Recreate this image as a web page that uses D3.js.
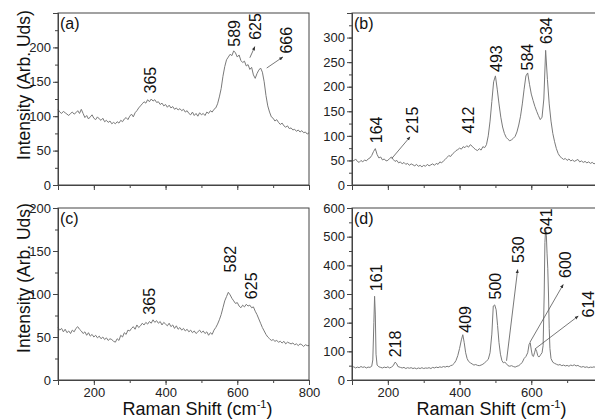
<!DOCTYPE html>
<html>
<head>
<meta charset="utf-8">
<script src="https://cdn.jsdelivr.net/npm/d3@7"></script>
<style>
body { margin: 0; background: #fff; overflow: hidden; }
svg { font-family: "Liberation Sans", Arial, sans-serif; }
</style>
</head>
<body>
<div id="chart-area"></div>
<script>
// Raman shift grid shared by spectra (a), (b), (c)
var shiftGrid = d3.range(100, 801, 5);

var intensityA = [
  110,106,104,107,105,103,101,104,106,103,
  105,108,104,110,104,98,101,96,99,102,
  97,95,99,96,94,97,92,94,91,93,
  89,91,89,92,90,94,92,96,98,95,
  100,103,99,105,108,112,115,118,121,119,
  124,121,125,122,124,120,121,117,119,115,
  117,113,116,112,114,110,112,109,111,108,
  110,106,108,104,102,106,101,104,100,105,
  102,104,101,106,104,108,106,110,112,118,
  128,140,158,172,182,186,190,188,195,192,
  186,189,181,178,180,173,175,168,171,160,
  155,162,167,170,164,150,130,115,106,99,
  97,93,95,91,88,90,86,84,86,82,
  83,80,81,78,80,77,79,76,77,74,
  76
];

var intensityB = [
  52,49,53,48,46,50,47,51,49,53,
  55,60,68,74,62,55,57,51,53,49,
  50,54,57,52,48,50,45,47,43,46,
  42,44,40,43,41,39,42,38,40,37,
  40,38,42,39,41,43,40,44,42,47,
  45,49,52,56,60,58,63,66,70,72,
  75,73,78,76,80,77,82,79,75,72,
  70,74,71,78,76,82,100,130,170,210,
  222,195,165,138,118,105,97,93,90,92,
  95,99,108,122,140,165,195,222,228,205,
  185,172,160,150,141,133,138,175,274,215,
  165,130,105,88,74,64,58,55,52,54,
  50,53,49,51,48,50,52,47,49,46,
  48,45,47,44,46,43,45,42,44,43,
  44
];

var intensityC = [
  61,58,60,56,59,55,57,54,58,56,
  60,62,59,57,54,56,52,55,51,53,
  50,52,49,51,48,50,47,49,46,48,
  47,45,44,48,46,52,50,55,53,58,
  57,60,62,59,64,61,63,66,64,67,
  65,68,66,70,67,69,66,68,64,67,
  65,63,66,62,64,60,63,59,61,58,
  60,57,59,56,58,55,57,54,56,58,
  55,57,54,56,52,55,53,58,61,65,
  70,76,84,92,97,102,99,95,92,89,
  90,86,84,87,85,88,86,87,84,85,
  80,76,71,66,61,57,53,50,48,46,
  47,45,46,44,45,43,45,42,44,43,
  42,43,41,42,40,42,41,39,41,40,
  40
];

// spectrum (d) has sharp lines, so it has its own shift list
var shiftD = [
  100,105,110,115,120,125,130,135,140,145,150,155,158,161,163,165,167,170,175,180,
  185,190,195,200,205,210,215,220,224,228,235,240,245,250,255,260,265,270,275,280,
  285,290,295,300,305,310,315,320,325,330,335,340,345,350,355,360,365,370,375,380,
  385,390,395,400,405,409,413,417,421,425,430,435,440,445,450,455,460,465,470,475,
  480,485,490,494,498,502,506,510,514,518,522,526,530,535,540,545,550,555,560,565,
  570,575,580,585,590,594,597,600,603,606,609,612,615,618,621,624,627,630,633,636,
  638,640,642,644,646,648,650,652,655,660,665,670,675,680,685,690,695,700,705,710,
  715,720,725,730,735,740,745,750,755,760,765,770,775,780,785,790,795,800
];
var intensityD = [
  44,46,42,45,43,47,44,46,42,45,44,48,70,200,292,230,90,52,46,44,
  42,45,43,46,42,45,50,62,58,47,44,42,44,40,43,41,43,40,42,39,
  42,40,43,40,42,41,43,40,44,42,45,43,46,44,47,45,48,46,50,52,
  58,68,85,110,140,158,130,95,75,65,60,56,52,54,51,50,52,55,60,66,
  72,95,160,258,262,245,190,130,90,68,60,62,58,50,48,50,47,45,48,50,
  55,62,75,82,95,125,130,105,85,82,95,108,100,85,80,84,90,95,120,300,
  480,525,505,440,390,300,180,110,75,62,58,55,52,54,50,52,49,51,48,52,
  50,53,49,51,47,45,47,44,46,43,45,44,46,43,45,44,46,45
];

var shiftTicksLeft = [200, 400, 600, 800];
var shiftTicksRight = [200, 400, 600];
var ticksA = [0, 50, 100, 150, 200];
var ticksB = [0, 50, 100, 150, 200, 250, 300];
var ticksC = [0, 50, 100, 150, 200];
var ticksD = [0, 100, 200, 300, 400, 500, 600];

// peak labels: text, label centre (shift, intensity where the text starts)
var peaksA = [
  {text: "365", x: 358, y: 133},
  {text: "589", x: 593, y: 201},
  {text: "625", x: 649, y: 211},
  {text: "666", x: 738, y: 191}
];
var peaksB = [
  {text: "164", x: 168, y: 85},
  {text: "215", x: 269, y: 105},
  {text: "412", x: 424, y: 105},
  {text: "493", x: 503, y: 230},
  {text: "584", x: 590, y: 233},
  {text: "634", x: 643, y: 287}
];
var peaksC = [
  {text: "365", x: 354, y: 76},
  {text: "582", x: 580, y: 125},
  {text: "625", x: 640, y: 94}
];
var peaksD = [
  {text: "161", x: 167, y: 310},
  {text: "218", x: 220, y: 79},
  {text: "409", x: 415, y: 165},
  {text: "500", x: 499, y: 281},
  {text: "530", x: 564, y: 408},
  {text: "641", x: 643, y: 506},
  {text: "600", x: 694, y: 356},
  {text: "614", x: 759, y: 218}
];

// arrows from a peak to its label
var arrowsA = [
  {x1: 635, y1: 185, x2: 649, y2: 201},
  {x1: 682, y1: 170, x2: 727, y2: 186}
];
var arrowsB = [
  {x1: 211, y1: 54, x2: 262, y2: 98}
];
var arrowsC = [];
var arrowsD = [
  {x1: 531, y1: 67, x2: 562, y2: 385},
  {x1: 596, y1: 131, x2: 689, y2: 333},
  {x1: 610, y1: 108, x2: 731, y2: 223}
];

var pw = 251;
var ph = 172;

var panels = [
  {name: "(a)", xs: shiftGrid, ys: intensityA, yMax: 250, yTicks: ticksA, yMinor: 25, left: 58, top: 13, xTicks: shiftTicksLeft, xLabels: false, peaks: peaksA, arrows: arrowsA},
  {name: "(b)", xs: shiftGrid, ys: intensityB, yMax: 350, yTicks: ticksB, yMinor: 25, left: 352, top: 13, xTicks: shiftTicksRight, xLabels: false, peaks: peaksB, arrows: arrowsB},
  {name: "(c)", xs: shiftGrid, ys: intensityC, yMax: 200, yTicks: ticksC, yMinor: 25, left: 58, top: 208, xTicks: shiftTicksLeft, xLabels: true, peaks: peaksC, arrows: arrowsC},
  {name: "(d)", xs: shiftD, ys: intensityD, yMax: 600, yTicks: ticksD, yMinor: 50, left: 352, top: 208, xTicks: shiftTicksRight, xLabels: true, peaks: peaksD, arrows: arrowsD}
];

var svg = d3.select('#chart-area')
  .append('svg')
  .attr('width', 595)
  .attr('height', 420);

svg.append('defs').append('marker')
  .attr('id', 'head')
  .attr('viewBox', '0 0 10 10')
  .attr('refX', 9)
  .attr('refY', 5)
  .attr('markerWidth', 5)
  .attr('markerHeight', 5)
  .attr('orient', 'auto')
  .append('path')
  .attr('d', 'M0,1 L10,5 L0,9 Z')
  .attr('fill', '#333');

panels.forEach(function(p) {
  var g = svg.append('g')
    .attr('transform', 'translate(' + p.left + ',' + p.top + ')');

  var x = d3.scaleLinear().domain([100, 800]).range([0, pw]);
  var y = d3.scaleLinear().domain([0, p.yMax]).range([ph, 0]);

  var line = d3.line()
    .x(function(d) { return x(d[0]); })
    .y(function(d) { return y(d[1]); });

  g.append('path')
    .datum(d3.zip(p.xs, p.ys))
    .attr('d', line)
    .attr('fill', 'none')
    .attr('stroke', '#7a7a7a')
    .attr('stroke-width', 1);

  // minor ticks
  g.append('g')
    .attr('class', 'minor axis')
    .call(d3.axisLeft(y).tickValues(d3.range(0, p.yMax + 1, p.yMinor)).tickSize(3).tickFormat(''));
  g.append('g')
    .attr('class', 'minor axis')
    .attr('transform', 'translate(0,' + ph + ')')
    .call(d3.axisBottom(x).tickValues(d3.range(100, 801, 100)).tickSize(3).tickFormat(''));

  // major ticks
  g.append('g')
    .attr('class', 'left axis')
    .call(d3.axisLeft(y).tickValues(p.yTicks).tickSize(5).tickPadding(2));
  var bot = d3.axisBottom(x).tickValues(p.xTicks).tickSize(5).tickPadding(3);
  if (!p.xLabels) bot.tickFormat('');
  g.append('g')
    .attr('class', 'bottom axis')
    .attr('transform', 'translate(0,' + ph + ')')
    .call(bot);

  g.selectAll('.axis path, .axis line').attr('stroke', '#444');
  g.selectAll('.axis text')
    .attr('font-size', '13px')
    .attr('fill', '#222')
    .attr('font-family', '"Liberation Sans", Arial, sans-serif');

  g.append('rect')
    .attr('width', pw)
    .attr('height', ph)
    .attr('fill', 'none')
    .attr('stroke', '#444');

  g.append('text')
    .attr('x', 2)
    .attr('y', 16)
    .attr('font-size', '16px')
    .attr('fill', '#111')
    .text(p.name);

  g.selectAll('.arrow')
    .data(p.arrows)
    .enter()
    .append('line')
    .attr('class', 'arrow')
    .attr('x1', function(d) { return x(d.x1); })
    .attr('y1', function(d) { return y(d.y1); })
    .attr('x2', function(d) { return x(d.x2); })
    .attr('y2', function(d) { return y(d.y2); })
    .attr('stroke', '#555')
    .attr('stroke-width', 0.8)
    .attr('marker-end', 'url(#head)');

  g.selectAll('.peak')
    .data(p.peaks)
    .enter()
    .append('text')
    .attr('class', 'peak')
    .attr('transform', function(d) { return 'translate(' + (x(d.x) + 5.7) + ',' + y(d.y) + ') rotate(-90)'; })
    .attr('font-size', '16px')
    .attr('fill', '#111')
    .text(function(d) { return d.text; });
});

// axis titles
[85, 278].forEach(function(cy) {
  svg.append('text')
    .attr('transform', 'translate(30,' + cy + ') rotate(-90)')
    .attr('text-anchor', 'middle')
    .attr('font-size', '17.5px')
    .attr('fill', '#111')
    .text('Intensity (Arb. Uds)');
});

[58, 352].forEach(function(left) {
  var t = svg.append('text')
    .attr('x', left + pw / 2 + 14)
    .attr('y', 415)
    .attr('text-anchor', 'middle')
    .attr('font-size', '18px')
    .attr('fill', '#111');
  t.append('tspan').text('Raman Shift (cm');
  t.append('tspan').attr('font-size', '11px').attr('dy', -7).text('-1');
  t.append('tspan').attr('dy', 7).text(')');
});
</script>
</body>
</html>
